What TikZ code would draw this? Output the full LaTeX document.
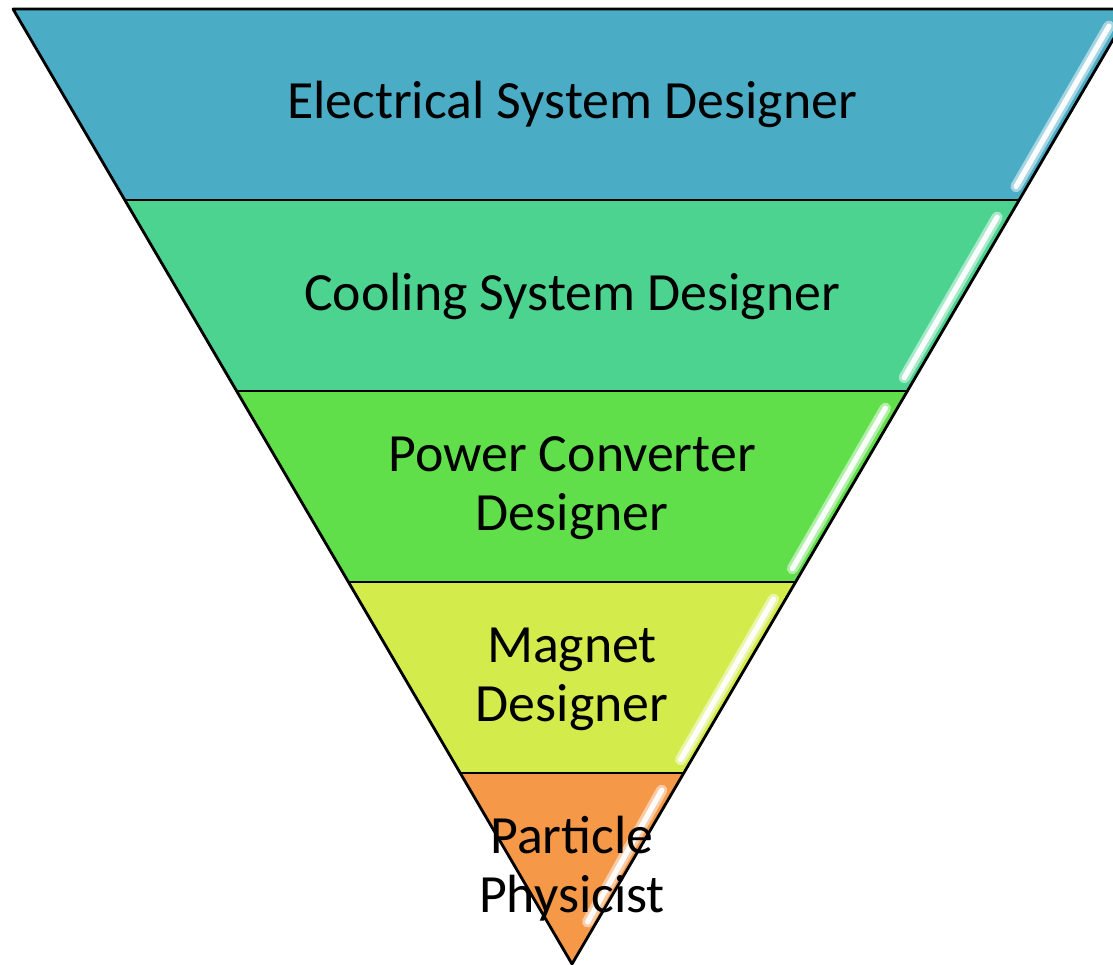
\documentclass[tikz,border=0pt]{standalone}
\usepackage{fontspec}
\setmainfont{Carlito}
\usetikzlibrary{calc}
\definecolor{bandA}{RGB}{75,172,198}
\definecolor{bandB}{RGB}{76,211,144}
\definecolor{bandC}{RGB}{96,223,75}
\definecolor{bandD}{RGB}{212,235,76}
\definecolor{bandE}{RGB}{245,152,72}
\tikzset{
  band/.style={fill=#1},
  edge/.style={draw=black, line width=0.8pt, line join=round},
  gloss/.style={draw=white, line width=1.5pt, line cap=round, opacity=0.95},
  glosshalo/.style={draw=#1!40!white, line width=3.2pt, line cap=round, opacity=0.85},
  lbl/.style={font=\fontsize{15.3}{16.8}\selectfont, align=center, text=black, inner sep=0pt}
}
\begin{document}
\begin{tikzpicture}[x=0.01cm,y=-0.01cm]
\useasboundingbox (0,0) rectangle (1113,965);
\clip (0,0) rectangle (1113,965);
\coordinate (L0) at (13,9);
\coordinate (R0) at (1131,9);
\coordinate (A) at (572,964);
\foreach \i/\t in {1/0.2,2/0.4,3/0.6,4/0.8}{
  \coordinate (L\i) at ($(L0)!\t!(A)$);
  \coordinate (R\i) at ($(R0)!\t!(A)$);
}
% bands
\path[band=bandA] (L0) -- (R0) -- (R1) -- (L1) -- cycle;
\path[band=bandB] (L1) -- (R1) -- (R2) -- (L2) -- cycle;
\path[band=bandC] (L2) -- (R2) -- (R3) -- (L3) -- cycle;
\path[band=bandD] (L3) -- (R3) -- (R4) -- (L4) -- cycle;
\path[band=bandE] (L4) -- (R4) -- (A) -- cycle;
% gloss highlights
\foreach \i/\j/\c in {0/1/bandA,1/2/bandB,2/3/bandC,3/4/bandD}{
  \draw[glosshalo=\c] ($(R\i)!0.09!(R\j)+(-12,0)$) -- ($(R\i)!0.93!(R\j)+(-11,0)$);
  \draw[gloss] ($(R\i)!0.09!(R\j)+(-12,0)$) -- ($(R\i)!0.93!(R\j)+(-11,0)$);
}
\draw[glosshalo=bandE] ($(R4)!0.09!(A)+(-12,0)$) -- ($(R4)!0.78!(A)+(-9,0)$);
\draw[gloss] ($(R4)!0.09!(A)+(-12,0)$) -- ($(R4)!0.78!(A)+(-9,0)$);
% outline
\draw[edge] (L0) -- (R0) -- (A) -- cycle;
\foreach \i in {1,2,3,4}{ \draw[edge] (L\i) -- (R\i); }
% labels
\node[lbl] (t1) at (572,104) {Electrical System Designer};
\node[lbl] (t2) at (572,296) {Cooling System Designer};
\node[lbl] (t3) at (572,488) {Power Converter\\Designer};
\node[lbl] (t4) at (572,679) {Magnet\\Designer};
\node[lbl] (t5) at (572,869) {Particle\\Physicist};
\end{tikzpicture}
\end{document}
